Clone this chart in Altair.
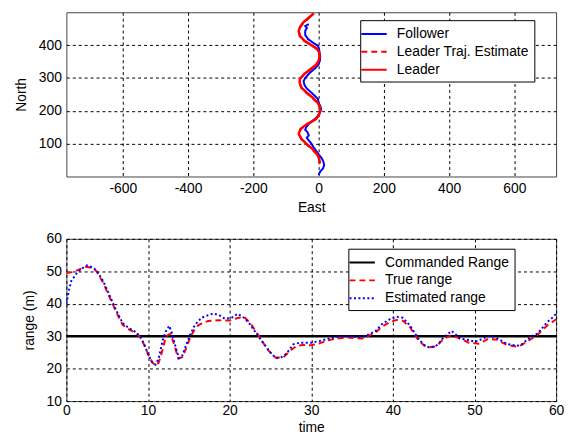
import altair as alt
import pandas as pd

FONT = "Liberation Sans"

# ---------------- top panel: trajectories (East / North) ----------------
leader_north = [40, 55, 70, 85, 100, 115, 130, 145, 160, 172,
                185, 200, 212, 225, 240, 255, 270, 285, 298, 312,
                326, 340, 352, 365, 378, 390, 402, 414, 428, 442,
                455, 468, 482, 496]
leader_east = [4, 2, -6, -20, -38, -53, -61, -55, -35, -12,
               0, 5, 4, -3, -18, -36, -52, -58, -57, -44,
               -26, -8, 0, 3, 2, -6, -25, -44, -57, -61,
               -57, -48, -32, -15]

estimate_north = leader_north
estimate_east = [3, 1, -8, -22, -40, -54, -60, -54, -33, -10,
                 1, 5, 3, -4, -20, -38, -53, -58, -56, -42,
                 -24, -6, 1, 3, 1, -8, -27, -46, -58, -60,
                 -56, -46, -30, -14]

follower_north = [5, 15, 25, 35, 45, 55, 65, 75, 88, 100,
                  112, 118, 125, 135, 142, 150, 160, 170, 180, 192,
                  205, 215, 225, 236, 248, 258, 268, 278, 290, 300,
                  310, 320, 330, 341, 353, 365, 378, 390, 398, 406,
                  418, 431, 443, 452, 458, 464]
follower_east = [0, 5, 14, 17, 15, 10, 2, -5, -15, -22,
                 -32, -36, -30, -34, -41, -38, -30, -18, -6, 3,
                 8, 5, 0, -2, -14, -25, -36, -43, -46, -41,
                 -32, -22, -10, 0, 4, 5, 3, 1, -2, -15,
                 -32, -41, -41, -36, -41, -30]

top_series = ["Follower", "Leader Traj. Estimate", "Leader"]
top_colors = ["#0000ff", "#ff0000", "#ff0000"]
top_dashes = [[1, 0], [6, 4], [1, 0]]
east_ticks = [-600, -400, -200, 0, 200, 400, 600]
north_ticks = [100, 200, 300, 400]

# ---------------- bottom panel: range vs time ----------------
true_time = [0, 0.9, 1.8, 2.5, 3.2, 3.7, 4.5, 5.3, 6.1, 6.9,
             7.7, 8.5, 9.0, 9.5, 10.0, 10.5, 10.9, 11.3, 11.7, 12.2,
             12.75, 13.2, 13.7, 14.2, 14.7, 15.2, 15.7, 16.2, 16.8, 17.4,
             18.6, 20.0, 21.0, 21.8, 22.6, 23.6, 24.6, 25.6, 26.6, 27.4,
             28.2, 29.0, 30.0, 31.0, 32.2, 33.2, 34.2, 35.3, 36.3, 37.1,
             37.9, 38.7, 39.6, 40.4, 41.2, 42.1, 43.1, 43.8, 44.4, 45.2,
             45.7, 46.2, 47.2, 48.2, 49.3, 50.5, 51.1, 51.7, 52.8, 53.4,
             54.0, 55.2, 55.8, 56.4, 57.0, 57.7, 58.3, 58.9, 59.5, 60.0]
true_range = [49.5, 49.8, 50.8, 51.4, 51.0, 50.0, 46.5, 42.0, 37.5, 33.5,
              32.0, 31.0, 29.8, 27.5, 24.5, 22.0, 21.0, 21.8, 25.0, 30.0,
              30.8, 27.5, 23.2, 23.5, 26.5, 29.8, 32.0, 33.4, 34.2, 34.7,
              34.9, 34.8, 35.6, 35.9, 33.8, 30.0, 26.0, 23.4, 23.5, 25.5,
              27.0, 27.3, 27.2, 27.8, 28.8, 29.3, 29.6, 29.4, 29.3, 30.2,
              31.2, 33.0, 34.3, 35.0, 34.8, 32.8, 28.8, 27.2, 26.6, 26.8,
              27.8, 29.2, 30.3, 29.3, 28.0, 27.7, 28.4, 29.2, 28.9, 28.0,
              27.3, 26.8, 27.3, 28.3, 29.2, 30.4, 31.8, 33.3, 34.3, 35.2]

est_time = [0, 0.3, 0.6, 1.3, 2.0, 2.5, 3.2, 3.7, 4.5, 5.3,
            6.1, 6.9, 7.7, 8.5, 9.0, 9.5, 10.0, 10.5, 10.9, 11.3,
            11.8, 12.2, 12.6, 13.0, 13.4, 13.8, 14.2, 14.6, 15.1, 15.6,
            16.1, 16.6, 17.3, 18.0, 18.7, 19.4, 20.2, 21.0, 21.8, 22.4,
            23.0, 23.8, 24.6, 25.2, 25.8, 26.4, 27.0, 27.8, 28.6, 29.3,
            30.0, 31.0, 32.2, 33.2, 34.2, 35.3, 36.3, 37.1, 37.9, 38.7,
            39.6, 40.4, 41.2, 42.1, 43.1, 43.8, 44.4, 45.2, 45.7, 46.2,
            46.8, 47.2, 47.7, 48.2, 49.3, 50.1, 50.8, 51.7, 52.3, 52.8,
            54.0, 55.2, 55.8, 56.4, 57.0, 57.7, 58.3, 58.9, 59.5, 60.0]
est_range = [40.0, 44.0, 47.0, 49.5, 51.0, 51.8, 51.2, 50.3, 47.0, 42.5,
             38.0, 34.0, 32.4, 31.3, 30.0, 27.8, 24.5, 22.0, 21.2, 23.0,
             28.8, 31.5, 33.2, 30.5, 26.5, 23.2, 24.0, 26.8, 30.0, 32.8,
             34.5, 35.7, 36.4, 37.0, 36.5, 35.4, 35.6, 36.9, 35.6, 34.0,
             31.8, 29.0, 26.3, 24.3, 23.2, 23.6, 24.7, 27.5, 28.0, 28.0,
             28.0, 28.5, 29.3, 29.8, 30.0, 29.8, 29.8, 30.6, 31.6, 33.8,
             35.2, 36.0, 35.7, 33.3, 29.3, 27.3, 26.6, 26.8, 28.0, 29.6,
             30.8, 31.6, 30.5, 29.3, 28.8, 28.3, 29.0, 30.0, 29.8, 29.3,
             27.6, 27.0, 27.5, 28.8, 30.0, 30.8, 32.5, 34.3, 35.6, 36.9]

cmd_time = [0, 60]
cmd_range = [30, 30]

bot_series = ["Commanded Range", "True range", "Estimated range"]
bot_colors = ["#000000", "#ff0000", "#0000ff"]
bot_dashes = [[1, 0], [6, 4], [2, 2.5]]
time_ticks = [0, 10, 20, 30, 40, 50, 60]
range_ticks = [10, 20, 30, 40, 50, 60]

# ---------------- data frames ----------------
def frame(xs, ys, name, xname, yname):
    return pd.DataFrame({xname: xs, yname: ys, "series": name, "idx": list(range(len(xs)))})

top_df = pd.concat([
    frame(follower_east, follower_north, "Follower", "east", "north"),
    frame(estimate_east, estimate_north, "Leader Traj. Estimate", "east", "north"),
    frame(leader_east, leader_north, "Leader", "east", "north"),
], ignore_index=True)

bot_df = pd.concat([
    frame(cmd_time, cmd_range, "Commanded Range", "time", "range"),
    frame(true_time, true_range, "True range", "time", "range"),
    frame(est_time, est_range, "Estimated range", "time", "range"),
], ignore_index=True)


def legend(x, y):
    return alt.Legend(
        title=None, orient="none", legendX=x, legendY=y,
        fillColor="white", strokeColor="black", cornerRadius=0,
        padding=5, symbolType="M-1.6,0H1.6", symbolSize=256, symbolStrokeWidth=2,
        labelFont=FONT, labelFontSize=14, labelColor="black", labelOffset=14,
        rowPadding=2,
    )


top_leg = legend(297, 8)
top_base = alt.Chart(top_df).mark_line(strokeWidth=2, clip=True).encode(
    x=alt.X("east:Q", scale=alt.Scale(domain=[-773, 728], nice=False, zero=False),
            axis=alt.Axis(title="East", values=east_ticks, labelFlush=False,
                          labelExpr="'' + datum.value", labelPadding=5, titlePadding=5)),
    y=alt.Y("north:Q", scale=alt.Scale(domain=[0, 500], nice=False, zero=False),
            axis=alt.Axis(title="North", values=north_ticks)),
    color=alt.Color("series:N", scale=alt.Scale(domain=top_series, range=top_colors), legend=top_leg),
    strokeDash=alt.StrokeDash("series:N", scale=alt.Scale(domain=top_series, range=top_dashes), legend=top_leg),
    order=alt.Order("idx:Q"),
)
top = alt.layer(
    top_base.transform_filter(alt.datum.series == "Follower"),
    top_base.transform_filter(alt.datum.series == "Leader Traj. Estimate"),
    top_base.transform_filter(alt.datum.series == "Leader").mark_line(strokeWidth=2.5, clip=True),
).properties(width=495, height=166)

bot_leg = legend(285, 10)
bot_base = alt.Chart(bot_df).mark_line(strokeWidth=2, clip=True).encode(
    x=alt.X("time:Q", scale=alt.Scale(domain=[0, 60], nice=False, zero=False),
            axis=alt.Axis(title="time", values=time_ticks, labelFlush=False,
                          labelPadding=3, titlePadding=3)),
    y=alt.Y("range:Q", scale=alt.Scale(domain=[10, 60], nice=False, zero=False),
            axis=alt.Axis(title="range (m)", values=range_ticks, labelFlush=False)),
    color=alt.Color("series:N", scale=alt.Scale(domain=bot_series, range=bot_colors), legend=bot_leg),
    strokeDash=alt.StrokeDash("series:N", scale=alt.Scale(domain=bot_series, range=bot_dashes), legend=bot_leg),
    order=alt.Order("idx:Q"),
)
bottom = alt.layer(
    bot_base.transform_filter(alt.datum.series == "Commanded Range").mark_line(strokeWidth=2.5, clip=True),
    bot_base.transform_filter(alt.datum.series == "True range"),
    bot_base.transform_filter(alt.datum.series == "Estimated range"),
).properties(width=495, height=164)

chart = alt.vconcat(top, bottom, spacing=16).resolve_scale(
    color="independent", strokeDash="independent",
).resolve_legend(
    color="independent", strokeDash="independent",
).properties(
    padding={"left": 6, "top": 1, "right": 1, "bottom": 0},
    background="white",
).configure_axis(
    labelFont=FONT, labelFontSize=14, labelColor="black",
    titleFont=FONT, titleFontSize=14, titleFontWeight="normal", titleColor="black",
    domain=False, ticks=False, labelPadding=5,
    grid=True, gridColor="black", gridDash=[3, 3], gridWidth=1, gridOpacity=1,
).configure_axisY(titlePadding=10).configure_view(
    stroke="#444444", strokeWidth=1,
).configure_legend(strokeWidth=1)

chart.save("out.html", embed_options={"renderer": "svg", "actions": False})
